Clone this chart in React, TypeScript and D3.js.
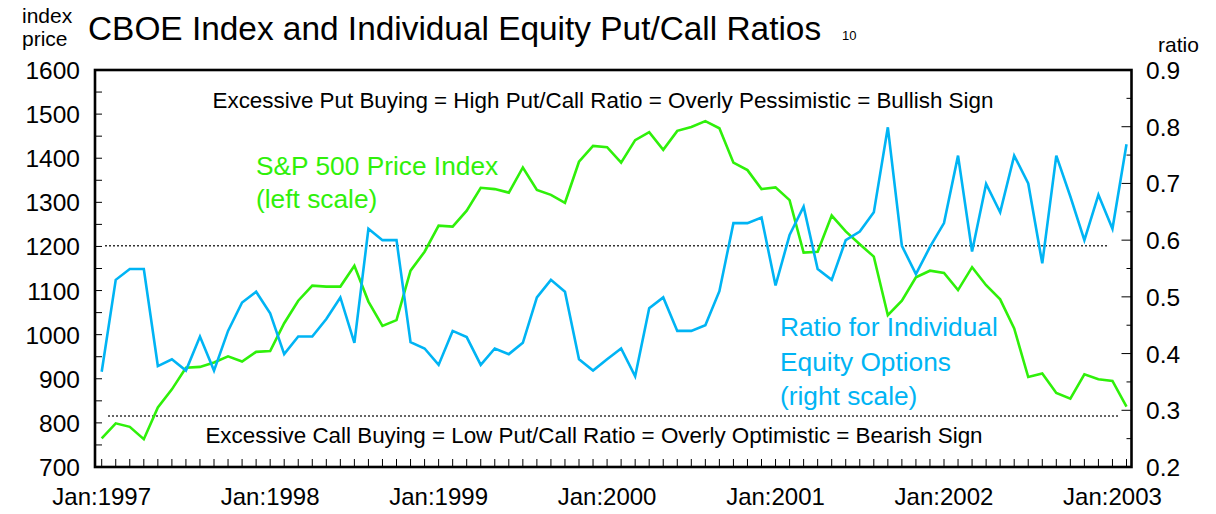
import * as d3 from "d3";

// monthly, Jan 1997 .. Feb 2003
const months = d3.timeMonths(new Date(1997, 0, 1), new Date(2003, 2, 1));

const spx = [
  765, 799, 791, 763, 835, 876, 925, 927, 937, 951, 939, 961,
  963, 1026, 1077, 1111, 1109, 1109, 1156, 1075, 1020, 1033, 1145, 1188,
  1247, 1245, 1281, 1333, 1330, 1322, 1379, 1328, 1317, 1299, 1392, 1428,
  1425, 1390, 1441, 1459, 1419, 1462, 1471, 1484, 1468, 1390, 1373, 1330,
  1334, 1305, 1186, 1188, 1270, 1234, 1205, 1177, 1044, 1077, 1130, 1145,
  1140, 1101, 1153, 1112, 1080, 1014, 904, 912, 868, 855, 910, 899,
  895, 837,
];

const putCall = [
  0.368, 0.53, 0.549, 0.549, 0.378, 0.39, 0.37, 0.43, 0.37, 0.44, 0.49, 0.509,
  0.471, 0.399, 0.43, 0.43, 0.461, 0.499, 0.419, 0.62, 0.6, 0.6, 0.42, 0.409,
  0.38, 0.44, 0.429, 0.38, 0.409, 0.399, 0.419, 0.499, 0.53, 0.509, 0.39, 0.37,
  0.39, 0.409, 0.36, 0.48, 0.499, 0.44, 0.44, 0.45, 0.51, 0.63, 0.63, 0.64,
  0.52, 0.609, 0.659, 0.549, 0.53, 0.6, 0.615, 0.649, 0.799, 0.59, 0.54, 0.588,
  0.63, 0.749, 0.58, 0.699, 0.649, 0.749, 0.7, 0.559, 0.749, 0.677, 0.6, 0.68,
  0.62, 0.769,
];

const leftTicks = [700, 800, 900, 1000, 1100, 1200, 1300, 1400, 1500, 1600];
const rightTicks = [0.2, 0.3, 0.4, 0.5, 0.6, 0.7, 0.8, 0.9];
const yearLabels = ["Jan:1997", "Jan:1998", "Jan:1999", "Jan:2000", "Jan:2001", "Jan:2002", "Jan:2003"];

// reference levels for the ratio
const highRatio = 0.59;
const lowRatio = 0.29;

const W = 1216;
const H = 514;
const frame = { left: 95, right: 1131.5, top: 70, bottom: 467 };
const green = "#2ff00a";
const blue = "#00b4f4";
const font = "'Liberation Sans', Arial, Helvetica, sans-serif";

export default function App() {
  const x = d3.scaleLinear().domain([0, months.length - 1]).range([101.7, 1126.5]);
  const yL = d3.scaleLinear().domain([700, 1600]).range([frame.bottom, frame.top]);
  const yR = d3.scaleLinear().domain([0.2, 0.9]).range([frame.bottom, frame.top]);

  const spxLine = d3.line<number>().x((_, i) => x(i)).y((d) => yL(d))(spx) || "";
  const pcLine = d3.line<number>().x((_, i) => x(i)).y((d) => yR(d))(putCall) || "";

  const leftMinor = d3.range(700, 1601, 50);
  const rightMinor = d3.range(0.2, 0.9001, 0.05);
  const janIdx = months.map((m, i) => (m.getMonth() === 0 ? i : -1)).filter((i) => i >= 0);

  return (
    <svg width={W} height={H} style={{ position: "absolute", left: 0, top: 0, background: "#fff" }} fontFamily={font}>
      {/* header */}
      <text x={22} y={23} fontSize={21}>index</text>
      <text x={22} y={46} fontSize={21}>price</text>
      <text x={88} y={40} fontSize={33.4}>CBOE Index and Individual Equity Put/Call Ratios</text>
      <text x={842} y={40} fontSize={13}>10</text>
      <text x={1158} y={52} fontSize={21}>ratio</text>

      {/* reference lines */}
      <line x1={105} x2={1107} y1={yR(highRatio)} y2={yR(highRatio)} stroke="#333" strokeWidth={1.5} strokeDasharray="2,2" />
      <line x1={108} x2={1118} y1={yR(lowRatio)} y2={yR(lowRatio)} stroke="#333" strokeWidth={1.5} strokeDasharray="2,2" />

      {/* ticks */}
      {leftMinor.map((v) => (
        <line key={"l" + v} x1={frame.left} x2={frame.left + 7} y1={yL(v)} y2={yL(v)} stroke="#000" strokeWidth={1} />
      ))}
      {rightMinor.map((v, i) => (
        <line key={"r" + i} x1={frame.right - (i % 2 === 0 ? 10 : 5)} x2={frame.right} y1={yR(v)} y2={yR(v)} stroke="#000" strokeWidth={1} />
      ))}
      {months.map((_, i) => (
        <line key={"b" + i} x1={x(i)} x2={x(i)} y1={frame.bottom} y2={frame.bottom - 8} stroke="#000" strokeWidth={1} />
      ))}

      {/* series */}
      <path d={spxLine} fill="none" stroke={green} strokeWidth={2.6} strokeLinejoin="miter" />
      <path d={pcLine} fill="none" stroke={blue} strokeWidth={2.6} strokeLinejoin="miter" />

      {/* frame */}
      <rect x={frame.left} y={frame.top} width={frame.right - frame.left} height={frame.bottom - frame.top} fill="none" stroke="#000" strokeWidth={2.6} />

      {/* axis labels */}
      {leftTicks.map((v) => (
        <text key={v} x={80} y={yL(v) + 9} fontSize={24.5} textAnchor="end">{v}</text>
      ))}
      {rightTicks.map((v) => (
        <text key={v} x={1146} y={yR(v) + 9} fontSize={24.5}>{d3.format(".1f")(v)}</text>
      ))}
      {janIdx.map((i, k) => (
        <text key={i} x={x(i)} y={505} fontSize={24} textAnchor="middle">{yearLabels[k]}</text>
      ))}

      {/* annotations */}
      <text x={603} y={108} fontSize={22.4} textAnchor="middle">
        Excessive Put Buying = High Put/Call Ratio = Overly Pessimistic = Bullish Sign
      </text>
      <text x={594} y={443} fontSize={22.4} textAnchor="middle">
        Excessive Call Buying = Low Put/Call Ratio = Overly Optimistic = Bearish Sign
      </text>
      <text x={256} y={175} fontSize={26.3} fill={green}>S&amp;P 500 Price Index</text>
      <text x={256} y={208} fontSize={26.3} fill={green}>(left scale)</text>
      <text x={780} y={336} fontSize={26.3} fill={blue}>Ratio for Individual</text>
      <text x={780} y={371} fontSize={26.3} fill={blue}>Equity Options</text>
      <text x={780} y={405} fontSize={26.3} fill={blue}>(right scale)</text>
    </svg>
  );
}
